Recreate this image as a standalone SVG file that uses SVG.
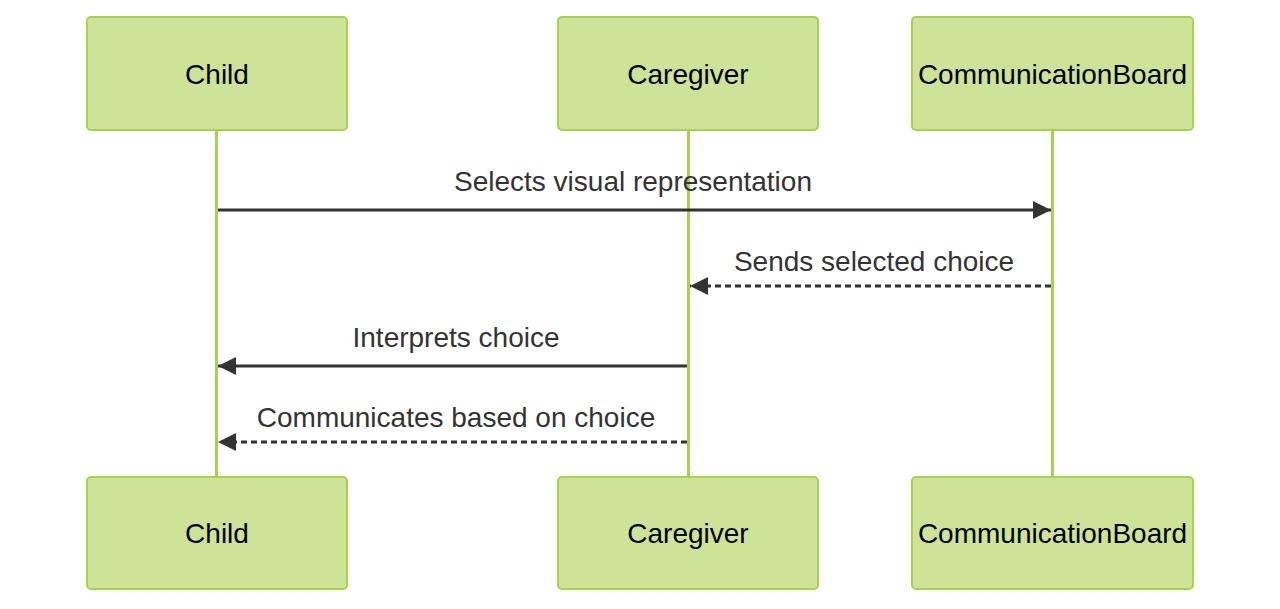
<svg xmlns="http://www.w3.org/2000/svg" width="1280" height="609" viewBox="0 0 1280 609">
<style>
.actor{fill:#cde498;stroke:#a9d04f;stroke-width:2}
.life{stroke:#a9d04f;stroke-width:3}
.atext{font-family:"Liberation Sans",Arial,sans-serif;font-size:28px;fill:#000;text-anchor:middle}
.mtext{font-family:"Liberation Sans",Arial,sans-serif;font-size:28px;fill:#333;text-anchor:middle}
.msg{stroke:#333;stroke-width:3;fill:none}
.dash{stroke-dasharray:6,4}
</style>
<defs>
<marker id="arrow" markerWidth="18" markerHeight="18" refX="18" refY="9" orient="auto" markerUnits="userSpaceOnUse">
<path d="M0,0 L18,9 L0,18 Z" fill="#333"/>
</marker>
</defs>
<g id="lifelines">
<line class="life" x1="216.5" y1="130" x2="216.5" y2="477"/>
<line class="life" x1="688.5" y1="130" x2="688.5" y2="477"/>
<line class="life" x1="1052.5" y1="130" x2="1052.5" y2="477"/>
</g>
<g id="actor-child-top"><rect class="actor" x="87" y="17" width="260" height="113" rx="4"/><text class="atext" x="217" y="84">Child</text></g>
<g id="actor-caregiver-top"><rect class="actor" x="558" y="17" width="260" height="113" rx="4"/><text class="atext" x="688" y="84">Caregiver</text></g>
<g id="actor-board-top"><rect class="actor" x="912" y="17" width="281" height="113" rx="4"/><text class="atext" x="1052.5" y="84">CommunicationBoard</text></g>
<g id="actor-child-bottom"><rect class="actor" x="87" y="477" width="260" height="112" rx="4"/><text class="atext" x="217" y="543">Child</text></g>
<g id="actor-caregiver-bottom"><rect class="actor" x="558" y="477" width="260" height="112" rx="4"/><text class="atext" x="688" y="543">Caregiver</text></g>
<g id="actor-board-bottom"><rect class="actor" x="912" y="477" width="281" height="112" rx="4"/><text class="atext" x="1052.5" y="543">CommunicationBoard</text></g>
<g id="connectors">
<line class="msg" x1="218" y1="210" x2="1051" y2="210" marker-end="url(#arrow)"/>
<text class="mtext" x="633" y="191">Selects visual representation</text>
<line class="msg dash" x1="1051" y1="286" x2="690" y2="286" marker-end="url(#arrow)"/>
<text class="mtext" x="874" y="271">Sends selected choice</text>
<line class="msg" x1="687" y1="366" x2="218" y2="366" marker-end="url(#arrow)"/>
<text class="mtext" x="456" y="347">Interprets choice</text>
<line class="msg dash" x1="687" y1="442" x2="218" y2="442" marker-end="url(#arrow)"/>
<text class="mtext" x="456" y="427">Communicates based on choice</text>
</g>
</svg>
